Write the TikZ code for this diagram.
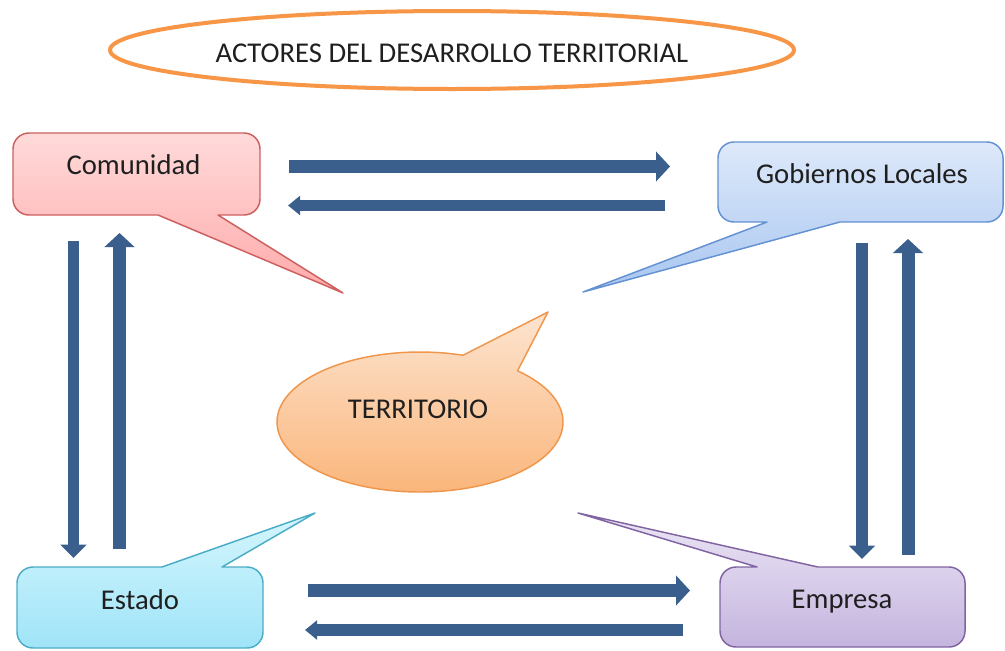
\documentclass[tikz,border=0pt]{standalone}
\usepackage{fontspec}
\setmainfont{Carlito}
\usetikzlibrary{arrows.meta}
\definecolor{arrowblue}{RGB}{58,95,140}
\definecolor{comTop}{RGB}{255,218,218}
\definecolor{comBot}{RGB}{255,170,170}
\definecolor{comLine}{RGB}{205,95,95}
\definecolor{gobTop}{RGB}{222,233,250}
\definecolor{gobBot}{RGB}{168,198,240}
\definecolor{gobLine}{RGB}{100,145,210}
\definecolor{estTop}{RGB}{212,246,253}
\definecolor{estBot}{RGB}{160,228,248}
\definecolor{estLine}{RGB}{75,172,198}
\definecolor{empTop}{RGB}{236,230,245}
\definecolor{empBot}{RGB}{196,180,222}
\definecolor{empLine}{RGB}{128,100,162}
\definecolor{terTop}{RGB}{253,228,208}
\definecolor{terBot}{RGB}{250,180,120}
\definecolor{terLine}{RGB}{240,150,75}
\definecolor{titleLine}{RGB}{247,150,70}
\begin{document}
\begin{tikzpicture}[x=0.75pt,y=-0.75pt,
  lbl/.style={font=\fontsize{21.5}{26}\selectfont, text=black!88, inner sep=0pt, anchor=base},
  callout/.style={line width=1.1pt, line join=round},
  flowA/.style={draw=arrowblue, line width=9.75pt, -{Triangle[length=10.5pt,width=22pt]}},
  flowB/.style={draw=arrowblue, line width=8.6pt, -{Triangle[length=9pt,width=14pt]}},
  flowC/.style={draw=arrowblue, line width=8.6pt, -{Triangle[length=10pt,width=19pt]}}]
\useasboundingbox (0,0) rectangle (1005,650);

% title
\draw[draw=titleLine, line width=3pt, fill=white] (452,50) ellipse [x radius=342, y radius=39];
\node[lbl] (title) at (452,62) {ACTORES DEL DESARROLLO TERRITORIAL};

% Comunidad
\path[callout, draw=comLine, top color=comTop, bottom color=comBot]
  (136,133) [rounded corners=12] -- (260,133) -- (260,215) [sharp corners] -- (218,215) -- (343,293) -- (158,215) [rounded corners=12] -- (13,215) -- (13,133) -- cycle;
\node[lbl] (com) at (133.5,174) {Comunidad};

% Gobiernos Locales
\path[callout, draw=gobLine, top color=gobTop, bottom color=gobBot]
  (860,142) [rounded corners=12] -- (1003,142) -- (1003,222) [sharp corners] -- (840,222) -- (583,292) -- (767,222) [rounded corners=12] -- (718,222) -- (718,142) -- cycle;
\node[lbl] (gob) at (862,183) {Gobiernos Locales};

% Estado
\path[callout, draw=estLine, top color=estTop, bottom color=estBot]
  (140,648) [rounded corners=12] -- (17,648) -- (17,567) [sharp corners] -- (162,567) -- (315,513) -- (222,567) [rounded corners=12] -- (263,567) -- (263,648) -- cycle;
\node[lbl] (est) at (140,609) {Estado};

% Empresa
\path[callout, draw=empLine, top color=empTop, bottom color=empBot]
  (842,647) [rounded corners=12] -- (720,647) -- (720,567) [sharp corners] -- (757,567) -- (578,513) -- (818,567) [rounded corners=12] -- (965,567) -- (965,647) -- cycle;
\node[lbl] (emp) at (842,608) {Empresa};

% Territorio
\path[callout, draw=terLine, top color=terTop, bottom color=terBot]
  (420,422) ++(-47:143 and 70) arc[start angle=-47, end angle=287.5, x radius=143, y radius=70] -- (548,312) -- cycle;
\node[lbl] (ter) at (418,418) {TERRITORIO};

% arrow end points
\coordinate (tr1) at (289,166.5);  \coordinate (tr2) at (670,166.5);
\coordinate (tl1) at (665,205.5);  \coordinate (tl2) at (288,205.5);
\coordinate (br1) at (308,590.5);  \coordinate (br2) at (690,590.5);
\coordinate (bl1) at (683,630);    \coordinate (bl2) at (305,630);
\coordinate (ld1) at (73.5,241);   \coordinate (ld2) at (73.5,558);
\coordinate (lu1) at (119.5,549);  \coordinate (lu2) at (119.5,233);
\coordinate (rd1) at (862,243);    \coordinate (rd2) at (862,559);
\coordinate (ru1) at (908,555);    \coordinate (ru2) at (908,239);

\draw[flowA] (tr1) -- (tr2);
\draw[flowB] (tl1) -- (tl2);
\draw[flowA] (br1) -- (br2);
\draw[flowB] (bl1) -- (bl2);
\draw[flowC] (ld1) -- (ld2);
\draw[flowA] (lu1) -- (lu2);
\draw[flowC] (rd1) -- (rd2);
\draw[flowA] (ru1) -- (ru2);
\end{tikzpicture}
\end{document}
